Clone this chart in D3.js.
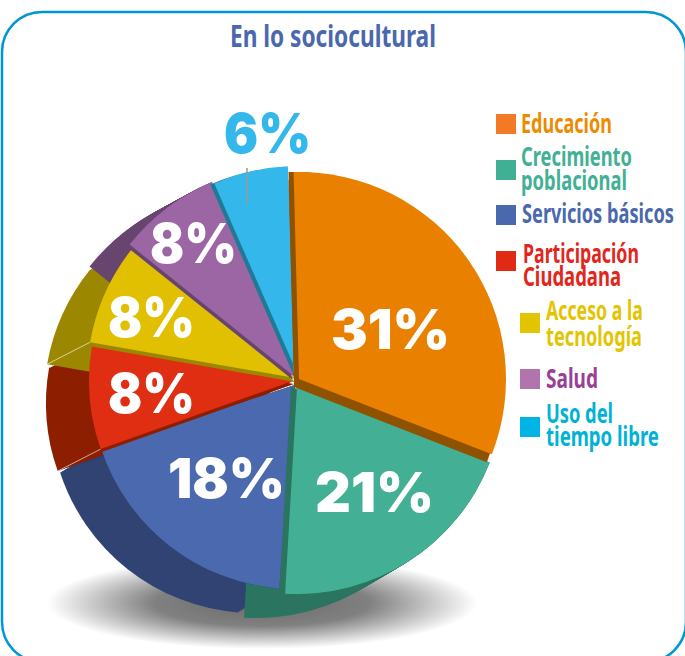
<!DOCTYPE html>
<html>
<head>
<meta charset="utf-8">
<title>En lo sociocultural</title>
<script src="https://cdn.jsdelivr.net/npm/d3@7"></script>
<style>
    html, body { margin: 0; padding: 0; background: #fff; overflow: hidden; }
    svg { display: block; }
    text { font-family: "Noto Sans", sans-serif; font-weight: 700; }
    .pct { font-family: Inter, sans-serif; font-weight: 900; font-size: 55px; }
</style>
</head>
<body>
<div class="chart"></div>
<script>
    var titleText = "En lo sociocultural";
    var categories = ["Educación", "Crecimiento poblacional", "Servicios básicos", "Participación Ciudadana", "Acceso a la tecnología", "Salud", "Uso del tiempo libre"];
    var values = [31, 21, 18, 8, 8, 8, 6];
    var valueLabels = ["31%", "21%", "18%", "8%", "8%", "8%", "6%"];
    var legendLines = [["Educación"], ["Crecimiento", "poblacional"], ["Servicios básicos"], ["Participación", "Ciudadana"], ["Acceso a la", "tecnología"], ["Salud"], ["Uso del", "tiempo libre"]];

    // colours per slice
    var faceColors = ["#E98000", "#43B095", "#4A69AE", "#E02E12", "#E0C000", "#9C65A4", "#34B8EC"];
    var sideColors = ["#8F5200", "#2A7460", "#304373", "#8E1E00", "#9C8800", "#68456F", "#1F7A96"];
    var swatchColors = ["#F37A25", "#3FB094", "#4A68AE", "#E02A13", "#E2C400", "#B274AC", "#00B4E6"];
    var legendColors = ["#EE8A00", "#42B094", "#4A68AE", "#E2261B", "#E3C400", "#9A3F96", "#00B3D5"];

    // the slices are pulled apart a bit, so each has its own centre
    var faceCenter = [[299, 379], [297, 387], [295, 385], [293, 381], [295, 378], [295, 377], [298, 375]];
    var faceRadius = [207, 207, 204, 204, 208, 212, 209];
    // the drawn picture is not an exact pie, small corrections in degrees
    var startNudge = [0, 1.3, -1.3, 0, 0.6, 0.6, -0.5];
    var endNudge = [1.2, -2.4, 1.4, 0.7, 0.8, 0, -1.3];
    var edgeShift = [[-5, 8], [-6, 0], [0, 0], [1, 3], [0, 4], [-2, 3], [-4, 1]];
    var sideShift = [null, [-41, 24], [-41, 24], [-43, 22], [-43, 22], [-40, 22], null];
    var drawOrder = [2, 1, 3, 4, 5, 6, 0];

    var labelPos = [[331, 349], [315, 512], [168, 498], [108, 413], [108, 337], [150, 263], [224, 153]];
    var labelWidths = [119, 119, 117, 87, 87, 87, 87];
    var legendPos = [[496, 114, 521, 133], [496, 160, 521, 166], [496, 205, 522, 223], [496, 251, 523, 263], [520, 313, 546, 320], [520, 369, 546, 388], [520, 417, 546, 423]];
    var legendGap = [0, 24, 0, 23, 26, 0, 23];
    // measured widths, the font in the picture is a condensed one
    var legendWidths = [[91], [111, 106], [152], [116, 98], [97, 96], [52], [67, 113]];

    var width = 685, height = 656;

    var svg = d3.select(".chart").append("svg")
        .attr("width", width)
        .attr("height", height);

    // squeeze a text to the wanted width
    function fitText(sel, x, y, w) {
        var sx = w / sel.node().getComputedTextLength();
        sel.attr("transform", "translate(" + x + "," + y + ") scale(" + sx + ",1)");
    }

    // frame
    svg.append("rect")
        .attr("x", 2).attr("y", 12)
        .attr("width", 684).attr("height", 650)
        .attr("rx", 40).attr("ry", 40)
        .attr("fill", "none")
        .attr("stroke", "#0095D9")
        .attr("stroke-width", 2.5);

    var title = svg.append("text")
        .text(titleText)
        .attr("font-size", 31)
        .attr("fill", "#4A68AE");
    fitText(title, 230, 47, 206);

    // floor shadow
    var grad = svg.append("defs").append("radialGradient").attr("id", "floor");
    grad.append("stop").attr("offset", "0").attr("stop-color", "#6a6a6a");
    grad.append("stop").attr("offset", "0.5").attr("stop-color", "#808080");
    grad.append("stop").attr("offset", "1").attr("stop-color", "#fff");

    svg.append("ellipse")
        .attr("cx", 262).attr("cy", 603)
        .attr("rx", 215).attr("ry", 46)
        .attr("fill", "url(#floor)");

    var startDeg = -1.5;
    var pie = d3.pie().sort(null)
        .startAngle(startDeg * Math.PI / 180)
        .endAngle((startDeg + 360) * Math.PI / 180);
    var slices = pie(values);
    slices.forEach(function(s, i) {
        s.startAngle += startNudge[i] * Math.PI / 180;
        s.endAngle += endNudge[i] * Math.PI / 180;
    });

    function slicePath(i) {
        return d3.arc().innerRadius(0).outerRadius(faceRadius[i])(slices[i]);
    }

    // outer wall: the sector pushed along its shift, copy by copy
    var wall = svg.append("g");
    [2, 3, 4, 5, 1].forEach(function(i) {
        d3.range(0, 1.001, 0.04).forEach(function(t) {
            wall.append("path")
                .attr("d", slicePath(i))
                .attr("transform", "translate(" + (faceCenter[i][0] + sideShift[i][0] * t) + "," + (faceCenter[i][1] + sideShift[i][1] * t) + ")")
                .attr("fill", sideColors[i]);
        });
    });

    // thin light seams between the walls
    [[3, "startAngle"], [4, "startAngle"]].forEach(function(s) {
        var i = s[0], a = slices[i][s[1]];
        var x0 = faceCenter[i][0] + faceRadius[i] * Math.sin(a);
        var y0 = faceCenter[i][1] - faceRadius[i] * Math.cos(a);
        wall.append("line")
            .attr("x1", x0).attr("y1", y0)
            .attr("x2", x0 + sideShift[i][0]).attr("y2", y0 + sideShift[i][1])
            .attr("stroke", "#fff")
            .attr("stroke-opacity", 0.6)
            .attr("stroke-width", 1);
    });

    var faces = svg.append("g");
    drawOrder.forEach(function(i) {
        // orange needs its brown edge right up to the rim
        if (i == 0) {
            faces.append("path")
                .attr("d", slicePath(i))
                .attr("transform", "translate(" + (faceCenter[i][0] - 5) + "," + faceCenter[i][1] + ")")
                .attr("fill", sideColors[i]);
        }
        faces.append("path")
            .attr("d", slicePath(i))
            .attr("transform", "translate(" + (faceCenter[i][0] + edgeShift[i][0]) + "," + (faceCenter[i][1] + edgeShift[i][1]) + ")")
            .attr("fill", sideColors[i]);
        faces.append("path")
            .attr("d", slicePath(i))
            .attr("transform", "translate(" + faceCenter[i] + ")")
            .attr("fill", faceColors[i]);
    });

    // leader of the 6% label
    svg.append("line")
        .attr("x1", 247).attr("y1", 168)
        .attr("x2", 247).attr("y2", 204)
        .attr("stroke", "#999")
        .attr("stroke-width", 1.5);

    valueLabels.forEach(function(label, i) {
        var t = svg.append("text")
            .attr("class", "pct")
            .attr("fill", i == 6 ? faceColors[6] : "#fff")
            .text(label);
        fitText(t, labelPos[i][0], labelPos[i][1], labelWidths[i]);
    });

    // legend
    categories.forEach(function(name, i) {
        var p = legendPos[i];
        svg.append("rect")
            .attr("x", p[0]).attr("y", p[1])
            .attr("width", 20).attr("height", 20)
            .attr("fill", swatchColors[i]);
        legendLines[i].forEach(function(line, j) {
            var t = svg.append("text")
                .text(line)
                .attr("font-size", 26)
                .attr("fill", legendColors[i]);
            fitText(t, p[2], p[3] + j * legendGap[i], legendWidths[i][j]);
        });
    });
</script>
</body>
</html>
